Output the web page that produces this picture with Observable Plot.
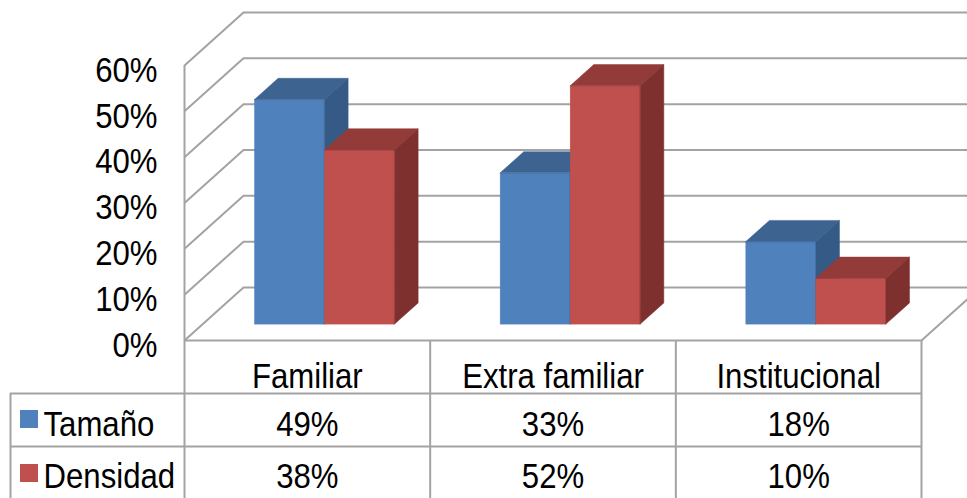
<!DOCTYPE html>
<html>
<head>
<meta charset="utf-8">
<script src="https://cdn.jsdelivr.net/npm/d3@7"></script>
<script src="https://cdn.jsdelivr.net/npm/@observablehq/plot@0.6"></script>
<style>
  html, body { margin: 0; padding: 0; background: #ffffff; overflow: hidden; }
  #chart svg { overflow: visible; display: block; }
</style>
</head>
<body>
<div id="chart"></div>
<script>
// ---- data ----
const categories = ["Familiar", "Extra familiar", "Institucional"];
const series = ["Tamaño", "Densidad"];
const tamano = [0.49, 0.33, 0.18];
const densidad = [0.38, 0.52, 0.10];
const tickValues = [0, 0.1, 0.2, 0.3, 0.4, 0.5, 0.6];
const valueLabels = [["49%", "33%", "18%"], ["38%", "52%", "10%"]];

// ---- styles ----
const faceColors = [
  {front: "#4F81BD", top: "#3D6391", side: "#345A85"},
  {front: "#C0504D", top: "#933B39", side: "#7E302E"}
];
const gridColor = "#a3a3a3";
const W = 967, H = 498;
const mL = 184, mR = 46, mT = 65, mB = 158;
const xDomain = [0, 3], yDomain = [0, 0.6];
const pxPerX = (W - mL - mR) / (xDomain[1] - xDomain[0]);
const pxPerY = (H - mT - mB) / (yDomain[1] - yDomain[0]);
const X = px => (px - mL) / pxPerX;          // pixel -> x units (layout helper)
const Y = py => (H - mB - py) / pxPerY;      // pixel -> y units (layout helper)
const DXu = 59 / pxPerX, DYu = 53 / pxPerY;  // full depth of the 3D box
const z0 = 0.3, z1 = 0.7;                    // bar depth range
const barW = 0.285, barStart = 0.215;
const FS = 35;

const values = [tamano, densidad];
const marks = [];

// back wall gridlines
marks.push(Plot.ruleY(tickValues, {y: d => d + DYu, x1: DXu, x2: 3 + DXu, stroke: gridColor, strokeWidth: 2}));
// side wall diagonals
marks.push(Plot.link(tickValues, {x1: 0, y1: d => d, x2: DXu, y2: d => d + DYu, stroke: gridColor, strokeWidth: 2}));
// side wall front edge
marks.push(Plot.ruleX([0], {y1: 0, y2: yDomain[1], stroke: gridColor, strokeWidth: 2}));
// floor right edge
marks.push(Plot.link([0], {x1: 3, y1: 0, x2: 3 + DXu, y2: DYu, stroke: gridColor, strokeWidth: 2}));

// table grid
marks.push(Plot.ruleY([0], {x1: 0, x2: 3, stroke: gridColor, strokeWidth: 2}));
marks.push(Plot.ruleY([Y(393), Y(446)], {x1: X(10), x2: 3, stroke: gridColor, strokeWidth: 2}));
marks.push(Plot.ruleX([0, 1, 2, 3], {y1: 0, y2: Y(H + 2), stroke: gridColor, strokeWidth: 2}));
marks.push(Plot.ruleX([X(10)], {y1: Y(393), y2: Y(H + 2), stroke: gridColor, strokeWidth: 2}));

// 3D bars
categories.forEach((c, i) => {
  series.forEach((s, j) => {
    const v = values[j][i];
    const a = i + barStart + j * barW, b = a + barW;
    const col = faceColors[j];
    marks.push(Plot.rect([{x1: a + z0 * DXu, x2: b + z0 * DXu, y1: z0 * DYu, y2: v + z0 * DYu}],
      {x1: "x1", x2: "x2", y1: "y1", y2: "y2", fill: col.front, stroke: col.front, strokeWidth: 0.5}));
    marks.push(Plot.areaX([
        {y: v + z0 * DYu, l: a + z0 * DXu, r: b + z0 * DXu},
        {y: v + z1 * DYu, l: a + z1 * DXu, r: b + z1 * DXu}],
      {y: "y", x1: "l", x2: "r", fill: col.top, stroke: col.top, strokeWidth: 0.5}));
    marks.push(Plot.areaY([
        {x: b + z0 * DXu, lo: z0 * DYu, hi: v + z0 * DYu},
        {x: b + z1 * DXu, lo: z1 * DYu, hi: v + z1 * DYu}],
      {x: "x", y1: "lo", y2: "hi", fill: col.side, stroke: col.side, strokeWidth: 0.5}));
  });
});

// y axis labels
marks.push(Plot.axisY(tickValues, {tickSize: 0, tickPadding: 27, tickFormat: d3.format(".0%"), fontSize: FS, dy: 5, label: null, fill: "black"}));

// table text
marks.push(Plot.text(categories, {x: (d, i) => i + 0.5, y: Y(375.8), text: d => d, fontSize: FS, fill: "black"}));
series.forEach((s, j) => {
  const rowY = Y(423.8 + j * 52);
  marks.push(Plot.text(valueLabels[j], {x: (d, i) => i + 0.5, y: rowY, text: d => d, fontSize: FS, fill: "black"}));
  marks.push(Plot.text([s], {x: X(43), y: rowY, text: d => d, textAnchor: "start", fontSize: FS, fill: "black"}));
  marks.push(Plot.rect([s], {x1: X(20), x2: X(38), y1: Y(428 + j * 54), y2: Y(410 + j * 54), fill: faceColors[j].front}));
});

const chart = Plot.plot({
  width: W, height: H,
  marginLeft: mL, marginRight: mR, marginTop: mT, marginBottom: mB,
  x: {type: "linear", domain: xDomain, axis: null},
  y: {type: "linear", domain: yDomain, axis: null},
  style: {fontFamily: "'Liberation Sans', Arial, sans-serif", fontSize: FS + "px", color: "black", background: "white", overflow: "visible"},
  marks
});

// horizontally condense text like the original's narrow lettering
chart.querySelectorAll("text").forEach(t => {
  const x = parseFloat(t.getAttribute("x")) || 0;
  const tr = t.getAttribute("transform") || "";
  t.setAttribute("transform", `${tr} translate(${x},0) scale(0.89,1) translate(${-x},0)`);
});

document.getElementById("chart").appendChild(chart);
</script>
</body>
</html>
